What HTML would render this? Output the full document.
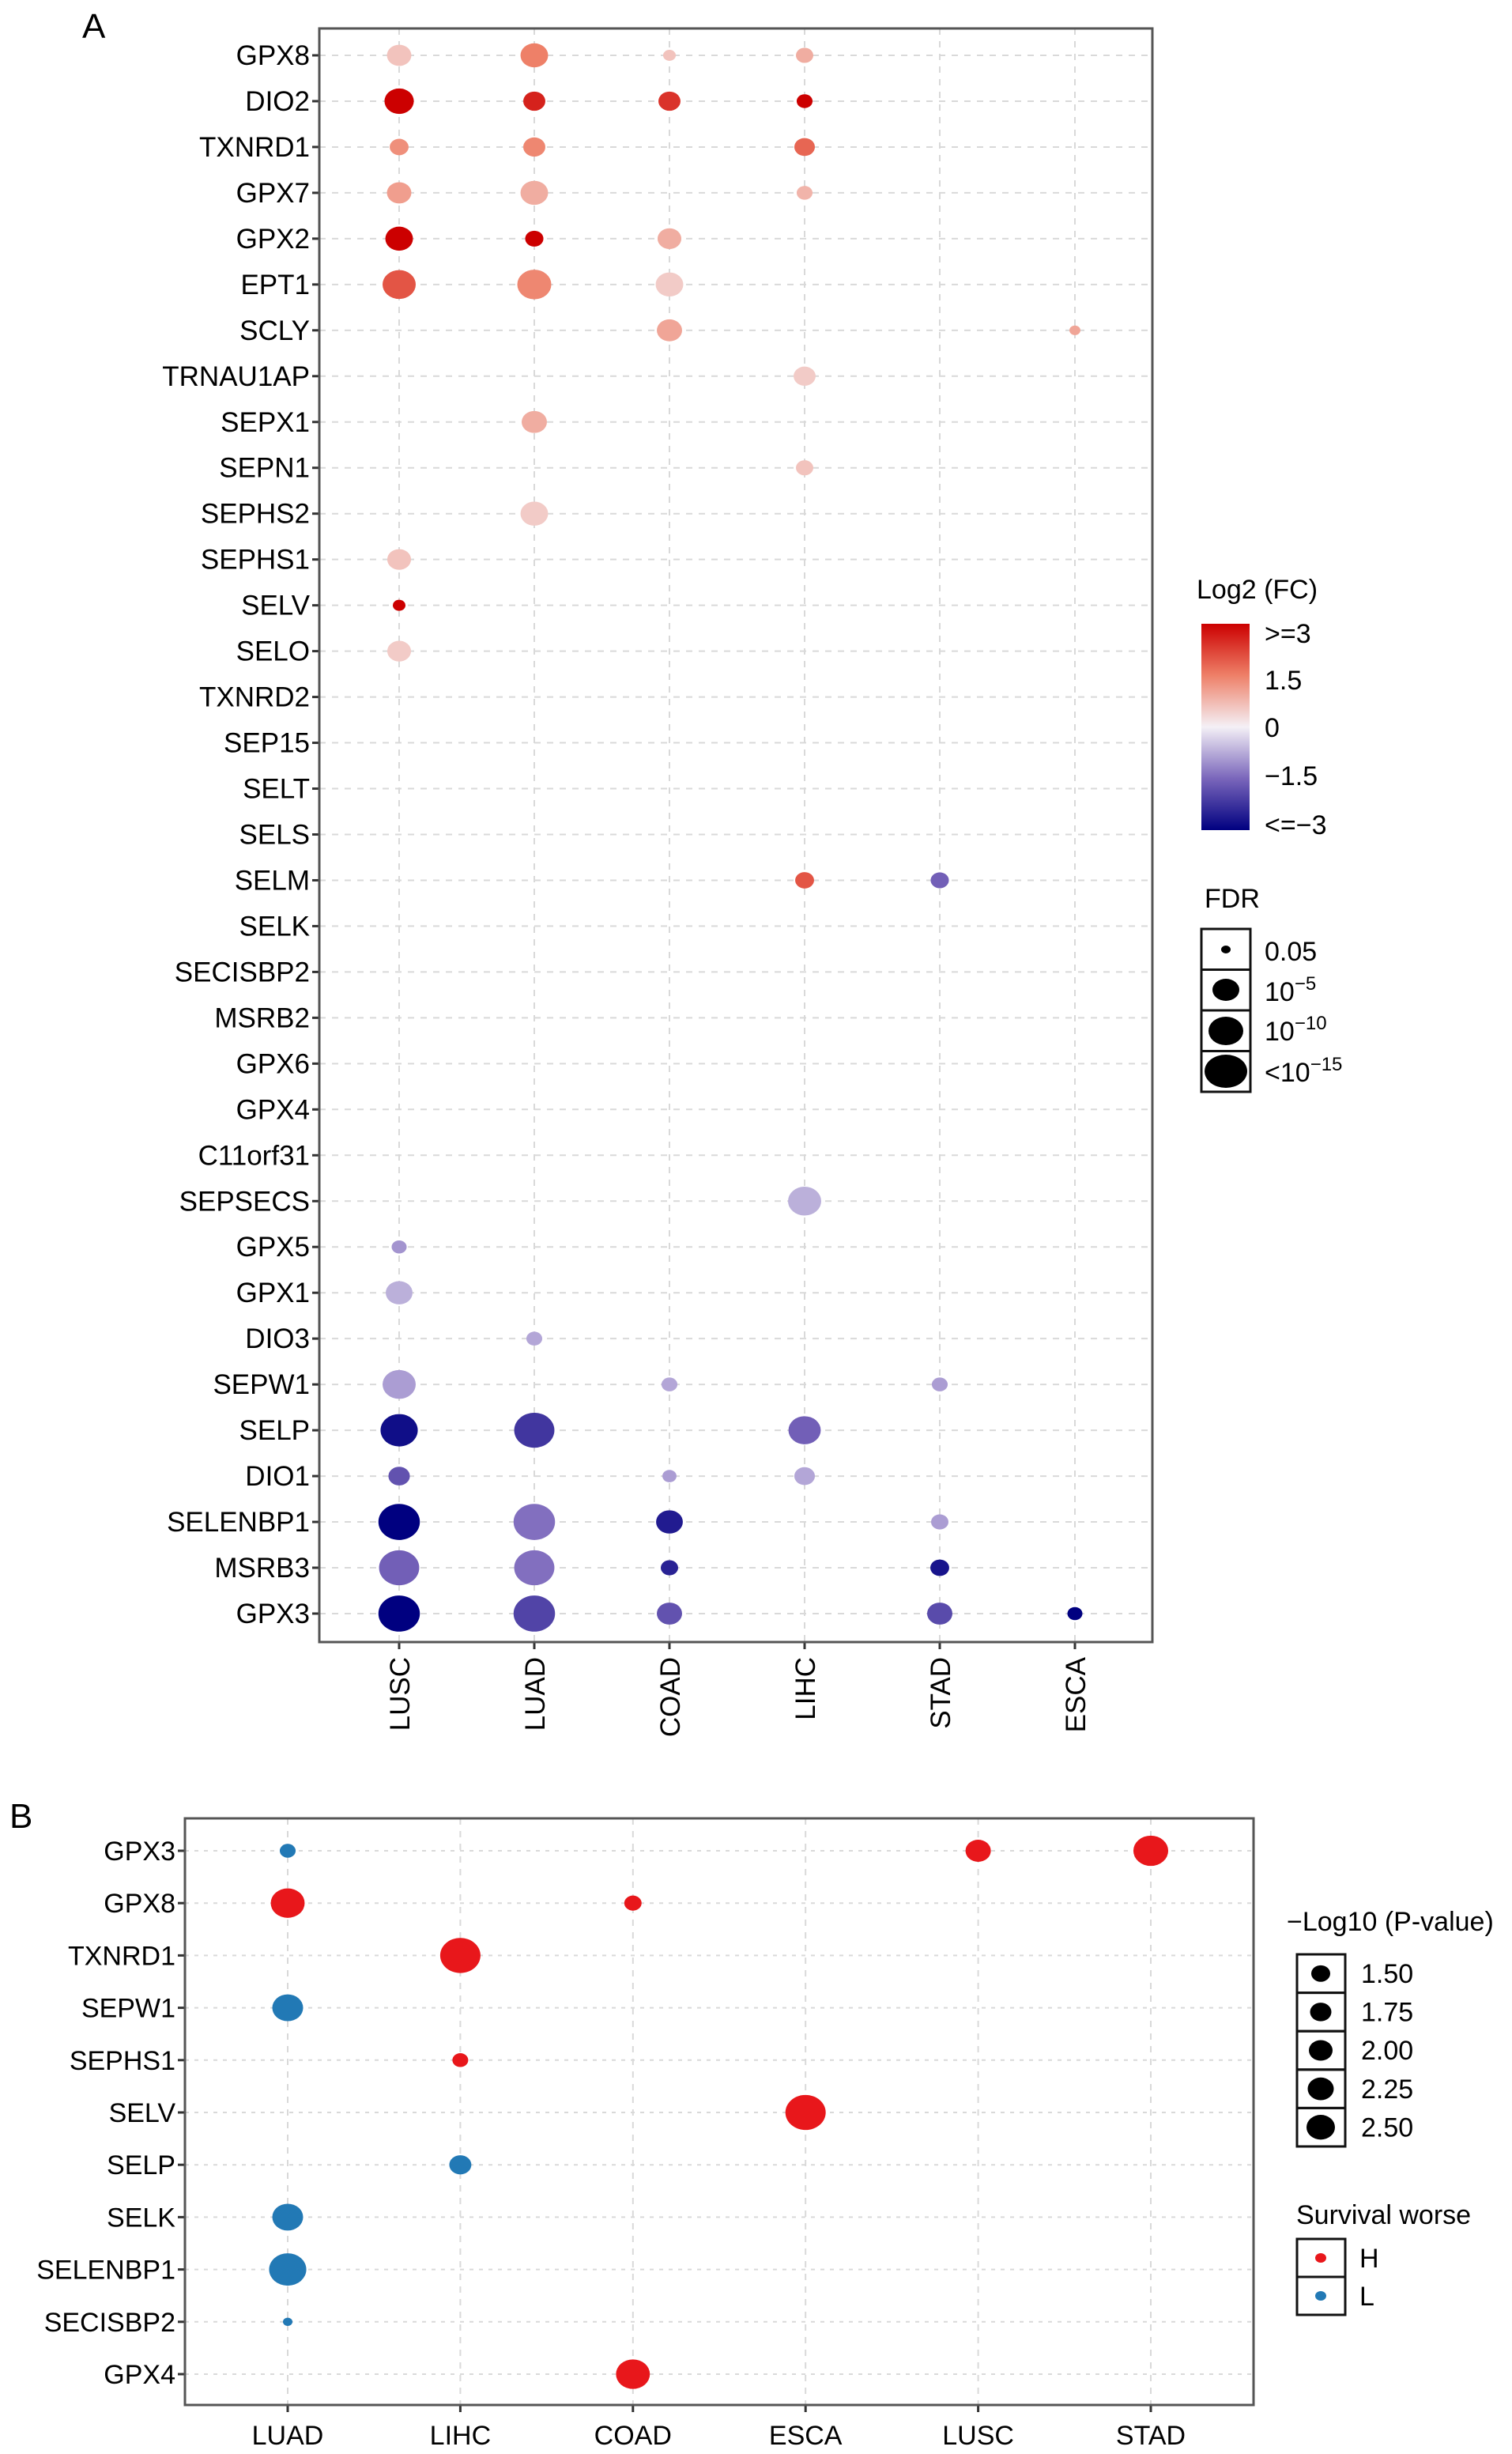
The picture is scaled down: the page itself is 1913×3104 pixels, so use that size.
<!DOCTYPE html>
<html><head><meta charset="utf-8"><style>
html,body{margin:0;padding:0;background:#fff;}
svg{display:block;font-family:"Liberation Sans",Arial,sans-serif;}
</style></head><body>
<svg id="fig" width="1913" height="3104" viewBox="0 0 1913 3104" xmlns="http://www.w3.org/2000/svg">
<defs>
<linearGradient id="fcgrad" x1="0" y1="0" x2="0" y2="1">
<stop offset="0" stop-color="#cc0000"/><stop offset="0.25" stop-color="#ee8068"/><stop offset="0.5" stop-color="#f4f0f6"/><stop offset="0.75" stop-color="#7a66bb"/><stop offset="1" stop-color="#000080"/>
</linearGradient>
</defs>
<text x="104" y="48" font-size="44">A</text>
<text x="12" y="2312" font-size="44">B</text>
<g id="pa"></g>
<g id="pb"></g>
<g>
<text x="1514" y="757" font-size="34">Log2 (FC)</text>
<rect x="1520" y="789" width="61" height="261" fill="url(#fcgrad)"/>
<text x="1600" y="813" font-size="34">&gt;=3</text>
<text x="1600" y="872" font-size="34">1.5</text>
<text x="1600" y="932" font-size="34">0</text>
<text x="1600" y="993" font-size="34">−1.5</text>
<text x="1600" y="1055" font-size="34">&lt;=−3</text>
</g>
<g>
<text x="1524" y="1148" font-size="34">FDR</text>
<rect x="1520" y="1175" width="62" height="51.5" fill="none" stroke="#111" stroke-width="3"/>
<rect x="1520" y="1226.5" width="62" height="51.5" fill="none" stroke="#111" stroke-width="3"/>
<rect x="1520" y="1278" width="62" height="51.5" fill="none" stroke="#111" stroke-width="3"/>
<rect x="1520" y="1329.5" width="62" height="51.5" fill="none" stroke="#111" stroke-width="3"/>
<ellipse cx="1551" cy="1201" rx="6" ry="5" fill="#000"/>
<ellipse cx="1551" cy="1252" rx="17" ry="14" fill="#000"/>
<ellipse cx="1551" cy="1304" rx="22" ry="18" fill="#000"/>
<ellipse cx="1551" cy="1355" rx="27" ry="21" fill="#000"/>
<text x="1600" y="1215" font-size="34">0.05</text>
<text x="1600" y="1266" font-size="34">10<tspan dy="-14" font-size="24">−5</tspan></text>
<text x="1600" y="1316" font-size="34">10<tspan dy="-14" font-size="24">−10</tspan></text>
<text x="1600" y="1368" font-size="34">&lt;10<tspan dy="-14" font-size="24">−15</tspan></text>
</g>
<g>
<text x="1628" y="2442" font-size="34">−Log10 (P-value)</text>
<g id="pkeys"></g>
</g>
<g>
<text x="1640" y="2813" font-size="34">Survival worse</text>
<rect x="1641" y="2832" width="61" height="48" fill="none" stroke="#111" stroke-width="3"/>
<rect x="1641" y="2880" width="61" height="48" fill="none" stroke="#111" stroke-width="3"/>
<ellipse cx="1671" cy="2856" rx="7" ry="6" fill="#e8171b"/>
<ellipse cx="1671" cy="2904" rx="7" ry="6" fill="#2279b5"/>
<text x="1720" y="2868" font-size="34">H</text>
<text x="1720" y="2916" font-size="34">L</text>
</g>
</svg>
<script>
// ---------- Panel A data ----------
const genesA = ["GPX8","DIO2","TXNRD1","GPX7","GPX2","EPT1","SCLY","TRNAU1AP","SEPX1","SEPN1","SEPHS2","SEPHS1","SELV","SELO","TXNRD2","SEP15","SELT","SELS","SELM","SELK","SECISBP2","MSRB2","GPX6","GPX4","C11orf31","SEPSECS","GPX5","GPX1","DIO3","SEPW1","SELP","DIO1","SELENBP1","MSRB3","GPX3"];
const cancersA = ["LUSC","LUAD","COAD","LIHC","STAD","ESCA"];
const dotGeneA = ["GPX8","GPX8","GPX8","GPX8","DIO2","DIO2","DIO2","DIO2","TXNRD1","TXNRD1","TXNRD1","GPX7","GPX7","GPX7","GPX2","GPX2","GPX2","EPT1","EPT1","EPT1","SCLY","SCLY","TRNAU1AP","SEPX1","SEPN1","SEPHS2","SEPHS1","SELV","SELO","SELM","SELM","SEPSECS","GPX5","GPX1","DIO3","SEPW1","SEPW1","SEPW1","SELP","SELP","SELP","DIO1","DIO1","DIO1","SELENBP1","SELENBP1","SELENBP1","SELENBP1","MSRB3","MSRB3","MSRB3","MSRB3","GPX3","GPX3","GPX3","GPX3","GPX3"];
const dotCancerA = ["LUSC","LUAD","COAD","LIHC","LUSC","LUAD","COAD","LIHC","LUSC","LUAD","LIHC","LUSC","LUAD","LIHC","LUSC","LUAD","COAD","LUSC","LUAD","COAD","COAD","ESCA","LIHC","LUAD","LIHC","LUAD","LUSC","LUSC","LUSC","LIHC","STAD","LIHC","LUSC","LUSC","LUAD","LUSC","COAD","STAD","LUSC","LUAD","LIHC","LUSC","COAD","LIHC","LUSC","LUAD","COAD","STAD","LUSC","LUAD","COAD","STAD","LUSC","LUAD","COAD","STAD","ESCA"];
const dotFC = [0.6,1.5,0.6,0.9, 3,2.6,2.4,3, 1.3,1.4,1.8, 1.1,0.9,0.8, 3,3,0.9, 2.0,1.4,0.5, 1.0,1.0, 0.5,0.9,0.6,0.5,0.6,3,0.5, 2.0,-1.6, -0.7,-1.0,-0.7,-0.8, -0.9,-0.8,-0.9, -2.8,-2.2,-1.6, -1.8,-0.9,-0.8, -3,-1.4,-2.6,-0.9, -1.6,-1.4,-2.5,-2.7, -3,-2.0,-1.8,-1.9,-3];
const dotFDR = [7.0,8.5,1.5,3.7, 9.3,5.9,5.9,3.0, 4.4,5.9,5.2, 7.0,8.5,3.0, 8.5,4.1,6.7, 11.1,11.5,8.5, 7.4,0.7, 5.9,7.4,3.7,8.5,6.7,1.5,6.7, 4.4,4.1, 11.1,2.6,8.1,3.0, 11.1,3.0,3.0, 13,14.4,10.7, 5.6,2.2,5.2, 15,15,8.1,3.7, 14.4,14.4,3.7,4.4, 15,15,7.4,7.4,2.6];
// ---------- Panel B data ----------
const genesB = ["GPX3","GPX8","TXNRD1","SEPW1","SEPHS1","SELV","SELP","SELK","SELENBP1","SECISBP2","GPX4"];
const cancersB = ["LUAD","LIHC","COAD","ESCA","LUSC","STAD"];
const dotGeneB = ["GPX3","GPX3","GPX3","GPX8","GPX8","TXNRD1","SEPW1","SEPHS1","SELV","SELP","SELK","SELENBP1","SECISBP2","GPX4"];
const dotCancerB = ["LUAD","LUSC","STAD","LUAD","COAD","LIHC","LUAD","LIHC","ESCA","LIHC","LUAD","LUAD","LUAD","COAD"];
const dotLogP = [1.57,1.97,2.37,2.33,1.63,2.6,2.2,1.57,2.6,1.83,2.2,2.47,1.3,2.33];
const dotGroup = ["L","H","H","H","H","H","L","H","H","L","L","L","L","H"];
const pKeyVals = [1.50,1.75,2.00,2.25,2.50];

const NS="http://www.w3.org/2000/svg";
function mk(tag, attrs, parent){const e=document.createElementNS(NS,tag);for(const k in attrs)e.setAttribute(k,attrs[k]);parent.appendChild(e);return e;}

const stops=[[-3,[0,0,128]],[-1.5,[122,102,187]],[0,[244,240,246]],[1.5,[238,128,104]],[3,[204,0,0]]];
function fcColor(v){v=Math.max(-3,Math.min(3,v));for(let i=0;i<stops.length-1;i++){const a=stops[i],b=stops[i+1];if(v<=b[0]){const t=(v-a[0])/(b[0]-a[0]);const c=a[1].map((x,j)=>Math.round(x+(b[1][j]-x)*t));return `rgb(${c[0]},${c[1]},${c[2]})`;}}return "rgb(204,0,0)";}

// ---------- Panel A ----------
const pa=document.getElementById('pa');
const A={l:404,r:1458,t:36,b:2077};
const xA=c=>505+cancersA.indexOf(c)*171;
const yA=g=>70+genesA.indexOf(g)*57.97;
const dA=v=>12+Math.min(v,15)*2.7;
cancersA.forEach(c=>{
  const l=mk('line',{x1:xA(c),x2:xA(c),y1:A.t,y2:A.b,stroke:'#d9d9d9','stroke-width':2,'stroke-dasharray':'8 8'},pa);
  
  
  const tk=mk('line',{x1:xA(c),x2:xA(c),y1:A.b,y2:A.b+9,stroke:'#333','stroke-width':3},pa);
  
  
  const t=mk('text',{x:0,y:0,'font-size':35,'text-anchor':'end',transform:`translate(${xA(c)+13},2096) rotate(-90)`},pa);
  t.textContent=c;
  
  
});
genesA.forEach(g=>{
  const l=mk('line',{x1:A.l,x2:A.r,y1:yA(g),y2:yA(g),stroke:'#d9d9d9','stroke-width':2,'stroke-dasharray':'8 8'},pa);
  
  
  const tk=mk('line',{x1:A.l-9,x2:A.l,y1:yA(g),y2:yA(g),stroke:'#333','stroke-width':3},pa);
  
  
  const t=mk('text',{x:A.l-12,y:yA(g)+12,'font-size':35,'text-anchor':'end'},pa);
  t.textContent=g;
  
  
});
const fa=mk('rect',{x:A.l,y:A.t,width:A.r-A.l,height:A.b-A.t,fill:'none',stroke:'#555','stroke-width':3},pa);


dotGeneA.forEach((g,i)=>{
  const d=dA(dotFDR[i]);
  const e=mk('ellipse',{cx:xA(dotCancerA[i]),cy:yA(g),rx:d/2,ry:d/2/1.15,fill:fcColor(dotFC[i])},pa);
  
  
});

// ---------- Panel B ----------
const pb=document.getElementById('pb');
const B={l:234,r:1586,t:2300,b:3042};
const xB=c=>364+cancersB.indexOf(c)*218.4;
const yB=g=>2341+genesB.indexOf(g)*66.2;
const dB=v=>12+(v-1.3)*30;
cancersB.forEach(c=>{
  const l=mk('line',{x1:xB(c),x2:xB(c),y1:B.t,y2:B.b,stroke:'#d9d9d9','stroke-width':2,'stroke-dasharray':'8 8'},pb);
  
  
  const tk=mk('line',{x1:xB(c),x2:xB(c),y1:B.b,y2:B.b+9,stroke:'#333','stroke-width':3},pb);
  
  
  const t=mk('text',{x:xB(c),y:3092,'font-size':34,'text-anchor':'middle'},pb);
  t.textContent=c;
  
  
});
genesB.forEach(g=>{
  const l=mk('line',{x1:B.l,x2:B.r,y1:yB(g),y2:yB(g),stroke:'#d9d9d9','stroke-width':2,'stroke-dasharray':'5 7'},pb);
  
  
  const tk=mk('line',{x1:B.l-9,x2:B.l,y1:yB(g),y2:yB(g),stroke:'#333','stroke-width':3},pb);
  
  
  const t=mk('text',{x:B.l-12,y:yB(g)+12,'font-size':34,'text-anchor':'end'},pb);
  t.textContent=g;
  
  
});
const fb=mk('rect',{x:B.l,y:B.t,width:B.r-B.l,height:B.b-B.t,fill:'none',stroke:'#555','stroke-width':3},pb);


dotGeneB.forEach((g,i)=>{
  const d=dB(dotLogP[i]);
  const e=mk('ellipse',{cx:xB(dotCancerB[i]),cy:yB(g),rx:d/2,ry:d/2/1.15,fill:dotGroup[i]==='H'?'#e8171b':'#2279b5'},pb);
  
  
});
const pk=document.getElementById('pkeys');
pKeyVals.forEach((v,i)=>{
  const y0=2472+i*48.6;
  const r=mk('rect',{x:1641,y:y0,width:61,height:48.6,fill:'none',stroke:'#111','stroke-width':3},pk);
  
  
  const d=24+(v-1.5)*12;
  const e=mk('ellipse',{cx:1671,cy:y0+24.3,rx:d/2,ry:d/2/1.15,fill:'#000'},pk);
  
  
  const t=mk('text',{x:1722,y:y0+36,'font-size':34},pk);
  t.textContent=v.toFixed(2);
  
  
});
</script>
</body></html>
